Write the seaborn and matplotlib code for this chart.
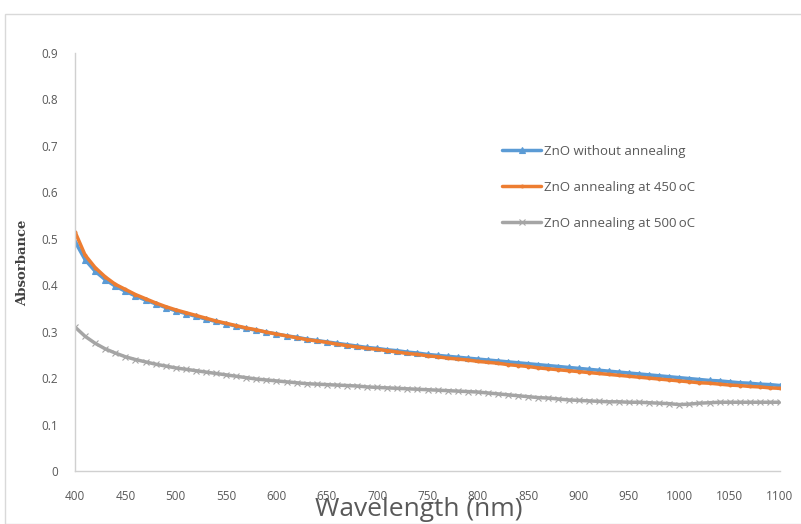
import matplotlib
matplotlib.use("Agg")
import matplotlib.pyplot as plt
import seaborn as sns
import numpy as np
import pandas as pd
from matplotlib.patches import Rectangle

wavelength = list(range(400, 1101, 10))

without_annealing = [
    0.494, 0.455, 0.430, 0.412, 0.398, 0.387, 0.377, 0.368, 0.360, 0.352,
    0.345, 0.339, 0.333, 0.327, 0.322, 0.317, 0.312, 0.307, 0.303, 0.299,
    0.295, 0.291, 0.288, 0.284, 0.281, 0.278, 0.275, 0.272, 0.269, 0.266,
    0.264, 0.261, 0.259, 0.256, 0.254, 0.251, 0.249, 0.247, 0.245, 0.243,
    0.241, 0.239, 0.237, 0.235, 0.233, 0.231, 0.229, 0.227, 0.225, 0.223,
    0.221, 0.219, 0.217, 0.215, 0.213, 0.211, 0.209, 0.207, 0.205, 0.203,
    0.201, 0.199, 0.197, 0.195, 0.194, 0.192, 0.190, 0.189, 0.187, 0.186,
    0.184,
]
annealing_450 = [
    0.515, 0.465, 0.438, 0.418, 0.402, 0.391, 0.380, 0.371, 0.362, 0.354,
    0.347, 0.341, 0.335, 0.329, 0.323, 0.318, 0.313, 0.308, 0.304, 0.299,
    0.295, 0.291, 0.287, 0.283, 0.280, 0.277, 0.273, 0.270, 0.267, 0.264,
    0.262, 0.259, 0.256, 0.253, 0.251, 0.248, 0.246, 0.243, 0.241, 0.239,
    0.236, 0.234, 0.232, 0.229, 0.227, 0.225, 0.222, 0.220, 0.218, 0.216,
    0.214, 0.212, 0.210, 0.208, 0.206, 0.204, 0.202, 0.200, 0.198, 0.196,
    0.194, 0.192, 0.190, 0.189, 0.187, 0.185, 0.184, 0.182, 0.181, 0.179,
    0.178,
]
annealing_500 = [
    0.310, 0.290, 0.275, 0.263, 0.254, 0.246, 0.240, 0.235, 0.230, 0.226,
    0.222, 0.219, 0.216, 0.213, 0.210, 0.207, 0.204, 0.201, 0.198, 0.196,
    0.194, 0.192, 0.190, 0.188, 0.187, 0.186, 0.185, 0.184, 0.183, 0.181,
    0.180, 0.179, 0.178, 0.177, 0.176, 0.175, 0.174, 0.173, 0.172, 0.171,
    0.170, 0.168, 0.166, 0.164, 0.162, 0.160, 0.158, 0.157, 0.155, 0.153,
    0.152, 0.151, 0.150, 0.149, 0.149, 0.148, 0.148, 0.147, 0.146, 0.145,
    0.143, 0.144, 0.146, 0.147, 0.148, 0.148, 0.148, 0.148, 0.148, 0.148,
    0.148,
]

labels = ["ZnO without annealing", "ZnO annealing at 450\u2009oC", "ZnO annealing at 500\u2009oC"]
colors = ["#5b9bd5", "#ed7d31", "#a5a5a5"]
markers = ["^", ".", "x"]

sns.set_style("white")
plt.rcParams["font.family"] = ["Open Sans", "DejaVu Sans"]

fig = plt.figure(figsize=(8.01, 5.24), dpi=100)
ax = fig.add_axes([75 / 801, 1 - 471 / 524, 705 / 801, 418 / 524])

# outer chart border
fig.patches.append(Rectangle((5 / 801, 0), 1.0, 1 - 14 / 524, transform=fig.transFigure,
                             fill=False, edgecolor="#d9d9d9", linewidth=1))

for vals, lab, col, mk in zip([without_annealing, annealing_450, annealing_500],
                              labels, colors, markers):
    sns.lineplot(x=wavelength, y=vals, color=col, label=lab, marker=mk,
                 linewidth=2.5, markersize=4, markeredgewidth=0.8,
                 markeredgecolor=col, ax=ax)

ax.set_xlim(400, 1100)
ax.set_ylim(0, 0.9)
ax.set_xticks(np.arange(400, 1101, 50))
ax.set_yticks(np.round(np.arange(0, 0.91, 0.1), 1))
ax.set_yticklabels(["0"] + [f"{v:.1f}" for v in np.arange(0.1, 0.91, 0.1)])
ax.tick_params(axis="both", length=0, labelsize=8.5, labelcolor="#595959")
ax.tick_params(axis="y", pad=12)
ax.tick_params(axis="x", pad=14)

for side in ["top", "right"]:
    ax.spines[side].set_visible(False)
for side in ["left", "bottom"]:
    ax.spines[side].set_color("#d0d0d0")
    ax.spines[side].set_linewidth(1)

ax.set_xlabel("")
ax.set_ylabel("")
fig.text(419 / 801, 1 - 509 / 524, "Wavelength (nm)", fontsize=19, color="#595959",
         ha="center", va="center")
fig.text(23 / 801, 1 - 263 / 524, "Absorbance", fontsize=9.5, color="#404040",
         fontweight="bold", rotation=90, ha="center", va="center",
         family=["DejaVu Serif"])

leg = ax.legend(loc="upper left", bbox_to_anchor=((490 - 75) / 705, (471 - 133) / 418),
                frameon=False, fontsize=9.5, labelspacing=1.75, handlelength=3.0,
                handletextpad=0.2, labelcolor="#595959")

fig.savefig("out.png", dpi=100)
